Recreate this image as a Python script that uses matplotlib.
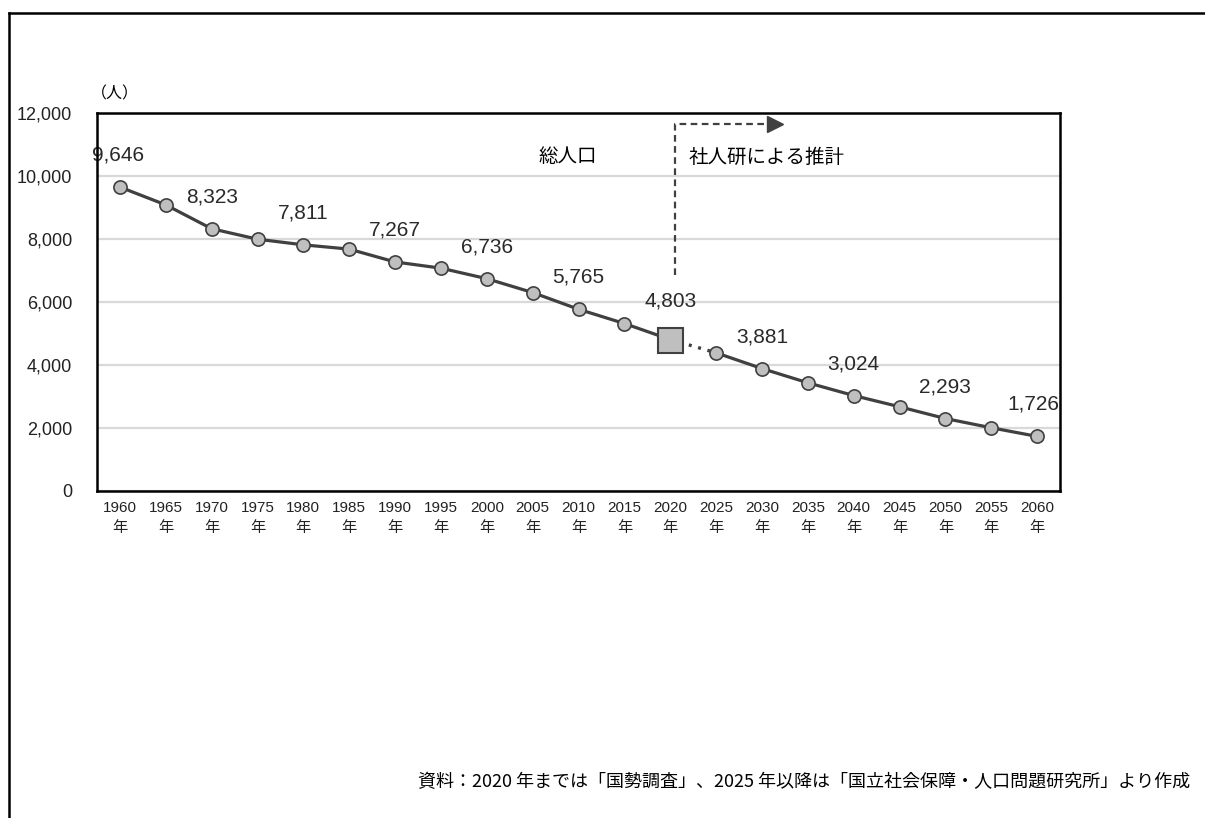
import matplotlib
matplotlib.use('Agg')
import matplotlib.pyplot as plt
from matplotlib.lines import Line2D

plt.rcParams['font.family'] = ['Liberation Sans', 'Noto Sans CJK JP']

# データ
years = ['1960', '1965', '1970', '1975', '1980', '1985', '1990', '1995', '2000', '2005', '2010',
         '2015', '2020', '2025', '2030', '2035', '2040', '2045', '2050', '2055', '2060']
pop = [9646, 9080, 8323, 7990, 7811, 7675, 7267, 7070, 6736, 6295, 5765,
       5311, 4803, 4381, 3881, 3429, 3024, 2667, 2293, 2000, 1726]
label_idx = [0, 2, 4, 6, 8, 10, 12, 14, 16, 18, 20]
split = 12  # 2020年 (国勢調査の最後)
yticks = [0, 2000, 4000, 6000, 8000, 10000, 12000]

dark = '#404040'
fill = '#bfbfbf'

fig = plt.figure(figsize=(12.05, 8.18), dpi=100)
ax = fig.add_axes([0.0805, 0.4001, 0.7992, 0.4618])

x = list(range(len(years)))

ax.set_xlim(-0.5, len(years) - 0.5)
ax.set_ylim(0, 12000)
ax.set_yticks(yticks)
ax.set_yticklabels([f'{v:,}' for v in yticks], fontsize=13, color='#222222')
ax.set_xticks(x)
ax.set_xticklabels([y + '\n年' for y in years], fontsize=11, linespacing=1.55, color='#222222')
ax.tick_params(axis='y', length=0, pad=18)
ax.tick_params(axis='x', length=0, pad=7.5)
ax.grid(axis='y', color='#d9d9d9', lw=1.6)
ax.set_axisbelow(True)
for s in ax.spines.values():
    s.set_linewidth(1.8)
    s.set_color('black')
    s.set_zorder(6)

# 実績 / 推計
ax.plot(x[:split + 1], pop[:split + 1], color=dark, lw=2.3, marker='o', ms=9.5,
        mfc=fill, mec=dark, mew=1.2, zorder=3)
ax.plot(x[split:split + 2], pop[split:split + 2], color=dark, lw=2.4,
        dashes=(0.9, 2.0), zorder=2)
ax.plot(x[split + 1:], pop[split + 1:], color=dark, lw=2.3, marker='o', ms=9.5,
        mfc=fill, mec=dark, mew=1.2, zorder=3)
ax.plot([x[split]], [pop[split]], marker='s', ms=18, mfc=fill, mec=dark, mew=1.5,
        ls='none', zorder=4)

last = len(years) - 1
for i in label_idx:
    dy = 28 if i == split else 23
    dx = -3 if i == last else (-1 if i == 0 else 0)
    ax.annotate(f'{pop[i]:,}', (x[i], pop[i]), xytext=(dx, dy), textcoords='offset points',
                ha='center', va='center', fontsize=15, color='#2a2a2a', zorder=5,
                clip_on=(i == last))

# 注釈
ax.text(0.489, 0.8835, '総人口', transform=ax.transAxes, ha='center', va='center',
        fontsize=14, family='Noto Sans CJK JP')
ax.text(0.614, 0.8835, '社人研による推計', transform=ax.transAxes, ha='left', va='center',
        fontsize=14, family='Noto Sans CJK JP')
ax.plot([0.600, 0.600, 0.697], [0.571, 0.971, 0.971], transform=ax.transAxes,
        color=dark, lw=1.6, dashes=(3, 2), zorder=5)
ax.plot([0.704], [0.971], transform=ax.transAxes, marker='>', ms=11, color=dark,
        mec=dark, ls='none', zorder=5, clip_on=False)

fig.text(0.0954, 0.885, '（人）', ha='center', va='center', fontsize=11.5,
         family='Noto Sans CJK JP')
fig.text(0.9876, 0.044,
         '資料：2020 年までは「国勢調査」、2025 年以降は「国立社会保障・人口問題研究所」より作成',
         ha='right', va='center', fontsize=13, family='Noto Sans CJK JP')

# 外枠
fig.add_artist(Line2D([0.0075, 1.0], [0.984, 0.984], color='black', lw=1.8))
fig.add_artist(Line2D([0.0075, 0.0075], [0.0, 0.984], color='black', lw=1.8))

fig.savefig('out.png', dpi=100)
